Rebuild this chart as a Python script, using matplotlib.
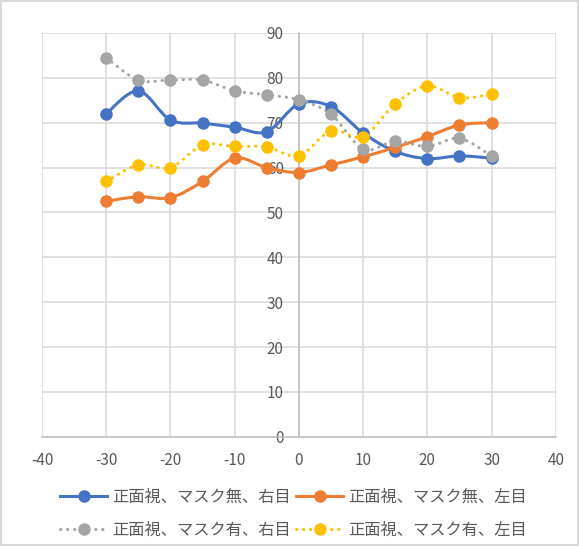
import numpy as np
import matplotlib.pyplot as plt
from matplotlib.path import Path
from matplotlib.patches import PathPatch
from matplotlib.lines import Line2D

plt.rcParams['font.family'] = ['Noto Sans CJK JP', 'DejaVu Sans']
plt.rcParams['axes.unicode_minus'] = False

angles = [-30, -25, -20, -15, -10, -5, 0, 5, 10, 15, 20, 25, 30]
right_no_mask = [72.0, 77.1, 70.6, 69.9, 69.0, 68.0, 74.2, 73.6, 67.7, 63.6, 62.0, 62.6, 62.1]
left_no_mask = [52.5, 53.5, 53.3, 56.9, 62.1, 60.0, 58.9, 60.6, 62.4, 64.5, 66.9, 69.5, 70.0]
right_mask = [84.5, 79.5, 79.5, 79.5, 77.1, 76.2, 75.1, 71.9, 64.1, 65.9, 64.7, 66.5, 62.6]
left_mask = [56.9, 60.6, 60.0, 65.0, 64.7, 64.6, 62.6, 68.2, 66.9, 74.2, 78.2, 75.6, 76.3]

labels = ["正面視、マスク無、右目", "正面視、マスク無、左目",
          "正面視、マスク有、右目", "正面視、マスク有、左目"]
colors = ["#4472c4", "#ed7d31", "#a5a5a5", "#ffc000"]
styles = ["-", "-", ":", ":"]
series = [right_no_mask, left_no_mask, right_mask, left_mask]
DOTS = (0, (0.1, 2.2))


def smooth_path(x, y):
    # cardinal-style bezier through every point, like a spreadsheet smoothed line
    pts = np.column_stack([x, y]).astype(float)
    ext = np.vstack([pts[0], pts, pts[-1]])
    verts = [pts[0]]
    codes = [Path.MOVETO]
    for i in range(len(pts) - 1):
        p0, p1, p2, p3 = ext[i], ext[i + 1], ext[i + 2], ext[i + 3]
        c1 = p1 + (p2 - p0) / 6.0
        c2 = p2 - (p3 - p1) / 6.0
        verts += [c1, c2, p2]
        codes += [Path.CURVE4] * 3
    return Path(verts, codes)


fig = plt.figure(figsize=(5.79, 5.46), dpi=100)
fig.patch.set_edgecolor("#d9d9d9")
fig.patch.set_linewidth(1.5)
ax = fig.add_axes([0.0725, 0.2, 0.8875, 0.7396])

tick_color = "#595959"
grid_color = "#d9d9d9"

for ys, c, ls in zip(series, colors, styles):
    patch = PathPatch(smooth_path(angles, ys), facecolor="none", edgecolor=c,
                      linewidth=2.2, capstyle="round", zorder=3)
    if ls == ":":
        patch.set_linestyle(DOTS)
    ax.add_patch(patch)
    ax.plot(angles, ys, linestyle="none", marker="o", markersize=8,
            color=c, zorder=4)

ax.set_xlim(-40, 40)
ax.set_ylim(0, 90)
ax.set_xticks(range(-40, 41, 10))
ax.set_yticks(range(0, 91, 10))
ax.grid(True, color=grid_color, linewidth=1.1)
ax.set_axisbelow(True)

ax.spines["left"].set_position(("data", 0))
ax.spines["left"].set_color("#bfbfbf")
ax.spines["left"].set_linewidth(1.1)
ax.spines["bottom"].set_color("#bfbfbf")
ax.spines["bottom"].set_linewidth(1.1)
ax.spines["top"].set_visible(False)
ax.spines["right"].set_visible(False)

ax.tick_params(axis="both", length=0, labelsize=11, labelcolor=tick_color)
ax.tick_params(axis="x", pad=11)
ax.tick_params(axis="y", pad=11)

handles = []
for c, ls in zip(colors, styles):
    h = Line2D([], [], color=c, linewidth=2.2, marker="o", markersize=8)
    if ls == ":":
        h.set_linestyle(DOTS)
        h.set_dash_capstyle("round")
    handles.append(h)

# legend fills column by column, so interleave to read row by row
order = [0, 2, 1, 3]
fig.legend([handles[i] for i in order], [labels[i] for i in order], ncol=2,
           loc="lower center", bbox_to_anchor=(0.507, -0.013), frameon=False,
           fontsize=11.7, labelcolor=tick_color, handlelength=2.9,
           columnspacing=0.3, handletextpad=0.3, labelspacing=0.95)

fig.savefig("out.png", dpi=100)
